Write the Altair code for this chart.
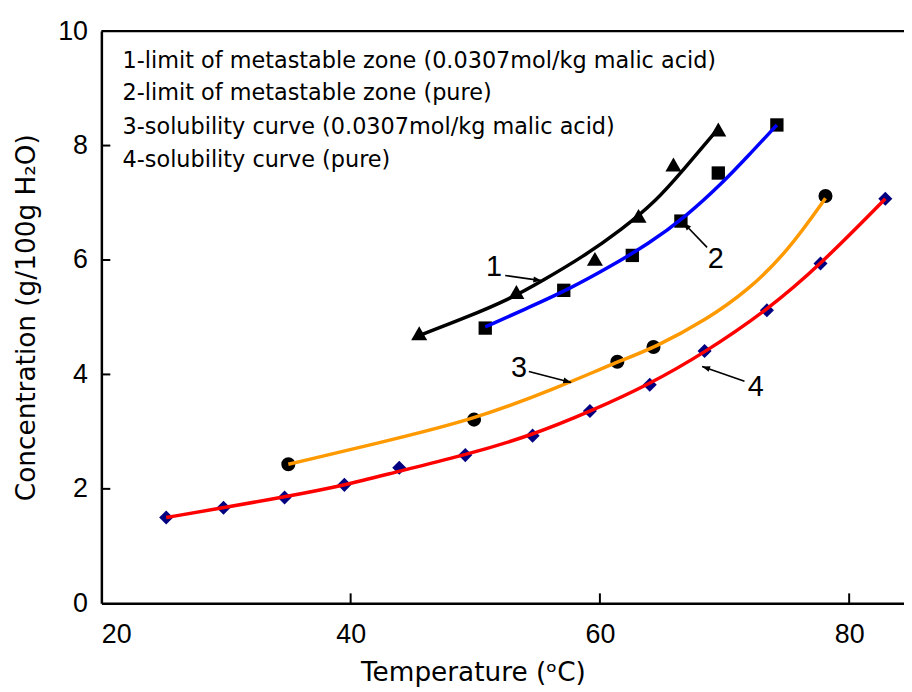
import math
import altair as alt
import pandas as pd

# ---- measured data (read from the picture) ----
# 1: limit of metastable zone (0.0307 mol/kg malic acid) - black triangles
s1_x = [45.5, 53.3, 59.6, 63.1, 65.9, 69.5]
s1_y = [4.72, 5.44, 6.02, 6.77, 7.67, 8.28]
f1_x = [45.5, 49.1, 52.8, 55.4, 58.6, 61.8, 64.5, 66.6, 69.5]
f1_y = [4.68, 4.98, 5.32, 5.64, 6.05, 6.54, 7.03, 7.55, 8.30]

# 2: limit of metastable zone (pure) - black squares, blue curve
s2_x = [50.8, 57.1, 62.6, 66.5, 69.5, 74.2]
s2_y = [4.81, 5.47, 6.08, 6.68, 7.52, 8.36]
f2_x = [50.8, 54.4, 57.6, 60.7, 63.9, 66.9, 69.8, 71.9, 74.2]
f2_y = [4.83, 5.18, 5.50, 5.87, 6.28, 6.76, 7.34, 7.82, 8.36]

# 3: solubility curve (0.0307 mol/kg malic acid) - black circles, orange curve
s3_x = [35.0, 49.9, 61.4, 64.3, 78.1]
s3_y = [2.43, 3.21, 4.22, 4.48, 7.12]
f3_x = [35.0, 42.0, 49.9, 56.5, 61.3, 64.5, 68.5, 71.9, 75.1, 78.1]
f3_y = [2.43, 2.79, 3.21, 3.76, 4.21, 4.48, 4.95, 5.47, 6.16, 7.08]

# 4: solubility curve (pure) - navy diamonds, red curve
s4_x = [25.2, 29.8, 34.7, 39.5, 43.9, 49.2, 54.6, 59.2, 64.0, 68.4, 73.4, 77.7, 82.9]
s4_y = [1.50, 1.67, 1.85, 2.07, 2.37, 2.59, 2.93, 3.36, 3.82, 4.41, 5.12, 5.94, 7.07]
f4_x = [25.2, 29.8, 34.7, 39.5, 43.9, 49.2, 54.6, 59.2, 64.0, 68.4, 73.4, 77.7, 82.9]
f4_y = [1.50, 1.67, 1.86, 2.06, 2.31, 2.59, 2.94, 3.35, 3.83, 4.38, 5.12, 5.92, 7.07]

legend_lines = [
    "1-limit of metastable zone (0.0307mol/kg malic acid)",
    "2-limit of metastable zone (pure)",
    "3-solubility curve (0.0307mol/kg malic acid)",
    "4-solubility curve (pure)",
]
legend_x = 21.7
legend_y = [9.48, 8.91, 8.32, 7.74]

# curve labels and arrows (data coordinates)
lab_text = ["1", "2", "3", "4"]
lab_x = [51.5, 69.3, 53.5, 72.5]
lab_y = [5.88, 6.02, 4.11, 3.78]
arr_x0 = [52.4, 68.6, 54.3, 71.6]
arr_y0 = [5.73, 6.22, 4.05, 3.88]
arr_x1 = [55.3, 66.7, 57.7, 68.2]
arr_y1 = [5.64, 6.65, 3.86, 4.14]

x_ticks = [20, 40, 60, 80]
y_ticks = [0, 2, 4, 6, 8, 10]

X_MIN, X_MAX = 20, 84.4
Y_MIN, Y_MAX = 0, 10
W, H = 808, 576

xs = alt.Scale(domain=[X_MIN, X_MAX], nice=False, zero=False)
ys = alt.Scale(domain=[Y_MIN, Y_MAX], nice=False)

TICK_FONT = "Liberation Sans"
TEXT_FONT = "DejaVu Sans"

fits = pd.concat([
    pd.DataFrame({"x": f1_x, "y": f1_y, "s": "1"}),
    pd.DataFrame({"x": f2_x, "y": f2_y, "s": "2"}),
    pd.DataFrame({"x": f3_x, "y": f3_y, "s": "3"}),
    pd.DataFrame({"x": f4_x, "y": f4_y, "s": "4"}),
])

x_enc = alt.X("x:Q", scale=xs, axis=alt.Axis(
    values=x_ticks, format="d", title="Temperature (ᵒC)", labelFontSize=27, labelFont=TICK_FONT,
    labelPadding=18, titleFont=TEXT_FONT, titleFontSize=26.5, titleFontWeight="normal",
    titleX=374, titleY=57, titleBaseline="top", titleAnchor="start", titleAlign="center",
    labelColor="black", titleColor="black"))
y_enc = alt.Y("y:Q", scale=ys, axis=alt.Axis(
    values=y_ticks, format="d", title="Concentration (g/100g H₂O)", labelFontSize=27,
    labelFont=TICK_FONT, labelPadding=14, titleFont=TEXT_FONT, titleFontSize=26.5,
    titleFontWeight="normal", titleX=-75, titleY=H / 2, titleAngle=270, titleBaseline="middle",
    titleAlign="center", titleAnchor="start", labelColor="black", titleColor="black"))

base_axes = alt.Chart(pd.DataFrame({"x": [X_MIN], "y": [Y_MIN]})).mark_point(opacity=0).encode(
    x=x_enc, y=y_enc)

lines = alt.Chart(fits).mark_line(interpolate="basis", strokeWidth=3.5).encode(
    x=alt.X("x:Q", scale=xs),
    y=alt.Y("y:Q", scale=ys),
    color=alt.Color("s:N", scale=alt.Scale(domain=["1", "2", "3", "4"],
                                            range=["#000000", "#0000FF", "#FF9900", "#FF0000"]),
                    legend=None),
    detail="s:N",
)


def markers(px, py, shape, color, size):
    return alt.Chart(pd.DataFrame({"x": px, "y": py})).mark_point(
        shape=shape, filled=True, color=color, size=size, opacity=1).encode(
        x=alt.X("x:Q", scale=xs), y=alt.Y("y:Q", scale=ys))


m1 = markers(s1_x, s1_y, "triangle-up", "black", 260)
m2 = markers(s2_x, s2_y, "square", "black", 180)
m3 = markers(s3_x, s3_y, "circle", "black", 200)
m4 = markers(s4_x, s4_y, "diamond", "#000080", 200)

# top frame line
top = alt.Chart(pd.DataFrame({"y": [Y_MAX]})).mark_rule(color="black", strokeWidth=2.5).encode(
    y=alt.Y("y:Q", scale=ys), x=alt.value(0), x2=alt.value(W))

# inward ticks
xt = alt.Chart(pd.DataFrame({"x": x_ticks[1:]})).mark_rule(color="black", strokeWidth=2).encode(
    x=alt.X("x:Q", scale=xs), y=alt.value(H), y2=alt.value(H - 10))
yt = alt.Chart(pd.DataFrame({"y": y_ticks[1:-1]})).mark_rule(color="black", strokeWidth=2).encode(
    y=alt.Y("y:Q", scale=ys), x=alt.value(0), x2=alt.value(9))

legend = alt.Chart(pd.DataFrame({"x": [legend_x] * 4, "y": legend_y, "t": legend_lines})).mark_text(
    align="left", baseline="middle", font=TEXT_FONT, fontSize=22.5, color="black").encode(
    x=alt.X("x:Q", scale=xs), y=alt.Y("y:Q", scale=ys), text="t:N")

labels = alt.Chart(pd.DataFrame({"x": lab_x, "y": lab_y, "t": lab_text})).mark_text(
    align="center", baseline="middle", font=TICK_FONT, fontSize=29, color="black").encode(
    x=alt.X("x:Q", scale=xs), y=alt.Y("y:Q", scale=ys), text="t:N")

arrows = alt.Chart(pd.DataFrame({"x": arr_x0, "y": arr_y0, "x2": arr_x1, "y2": arr_y1})).mark_rule(
    color="black", strokeWidth=1.6).encode(
    x=alt.X("x:Q", scale=xs), y=alt.Y("y:Q", scale=ys), x2="x2:Q", y2="y2:Q")

sx = W / (X_MAX - X_MIN)
sy = H / (Y_MAX - Y_MIN)
angles = []
for a, b, c, d in zip(arr_x0, arr_y0, arr_x1, arr_y1):
    dx = (c - a) * sx
    dy = -(d - b) * sy
    angles.append(math.degrees(math.atan2(dy, dx)) % 360)

heads = alt.Chart(pd.DataFrame({"x": arr_x1, "y": arr_y1, "a": angles})).mark_point(
    shape="M0,0L-2,-0.75L-2,0.75Z", filled=True, color="black", size=64, opacity=1).encode(
    x=alt.X("x:Q", scale=xs), y=alt.Y("y:Q", scale=ys),
    angle=alt.Angle("a:Q", scale=None))

chart = alt.layer(base_axes, m1, m2, m3, m4, lines, top, xt, yt, legend, labels, arrows, heads).properties(
    width=W, height=H,
    autosize=alt.AutoSizeParams(type="none"),
    padding={"left": 94, "top": 21, "right": 0, "bottom": 84},
    background="white",
).configure_view(stroke=None).configure_axis(
    grid=False, domainColor="black", domainWidth=2.5, tickSize=0, ticks=False,
)

chart.save("out.html", embed_options={"renderer": "svg", "actions": False})
